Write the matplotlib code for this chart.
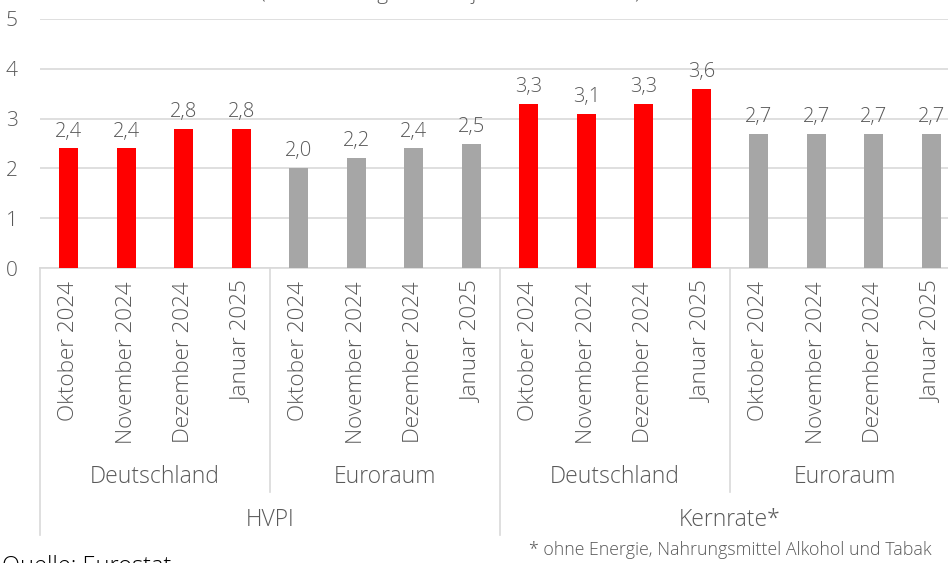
import numpy as np
import matplotlib.pyplot as plt
import matplotlib.transforms as mtransforms
from matplotlib.lines import Line2D

plt.rcParams['font.family'] = ['Open Sans', 'DejaVu Sans']
plt.rcParams['font.weight'] = 'light'

# data
months = ['Oktober 2024', 'November 2024', 'Dezember 2024', 'Januar 2025'] * 4
regions = ['Deutschland', 'Euroraum', 'Deutschland', 'Euroraum']
measures = ['HVPI', 'Kernrate*']
values = [2.4, 2.4, 2.8, 2.8, 2.0, 2.2, 2.4, 2.5,
          3.3, 3.1, 3.3, 3.6, 2.7, 2.7, 2.7, 2.7]
region_colors = {'Deutschland': '#FF0000', 'Euroraum': '#A6A6A6'}

W, H = 948, 563
fig = plt.figure(figsize=(W / 100, H / 100), dpi=100)
# axis deliberately runs past the right edge (reference is cropped)
ax = fig.add_axes([40 / W, (H - 268) / H, 920 / W, 249 / H])

x = np.arange(len(values))
bar_colors = [region_colors[regions[i // 4]] for i in x]
ax.bar(x, values, width=0.33, color=bar_colors, zorder=3)

txt = '#595959'
for xi, v in zip(x, values):
    ax.annotate(f'{v:.1f}'.replace('.', ','), (xi, v), xytext=(0, 5),
                textcoords='offset points', ha='center', va='bottom',
                fontsize=14.5, color=txt)

ax.set_xlim(-0.5, len(values) - 0.5)
ax.set_ylim(0, 5)
ax.set_yticks(range(6))
ax.tick_params(axis='y', length=0, pad=16, labelsize=15, labelcolor=txt)
ax.set_xticks([])
ax.grid(axis='y', color='#D9D9D9', linewidth=1.2, zorder=0)
for s in ['top', 'right', 'left']:
    ax.spines[s].set_visible(False)
ax.spines['bottom'].set_color('#D9D9D9')
ax.spines['bottom'].set_linewidth(1.2)

# category labels below the axis
tr = mtransforms.blended_transform_factory(ax.transData, fig.transFigure)
def fy(py):
    return (H - py) / H

for xi, m in zip(x, months):
    ax.text(xi, fy(281), m, transform=tr, rotation=90, ha='center', va='top',
            fontsize=16.2, color=txt)

for i, r in enumerate(regions):
    ax.text(i * 4 + 1.5, fy(477), r, transform=tr, ha='center', va='center',
            fontsize=16.5, color=txt)
for i, m in enumerate(measures):
    ax.text(i * 8 + 3.5, fy(520), m, transform=tr, ha='center', va='center',
            fontsize=16.5, color=txt)

# group separators
for b in range(0, 17, 4):
    bottom = 535 if b % 8 == 0 else 492
    ax.add_line(Line2D([b - 0.5, b - 0.5], [fy(268), fy(bottom)], transform=tr,
                       color='#D9D9D9', linewidth=1.2, clip_on=False))

# cropped title, footnote and source
fig.text(450 / W, fy(-1), '(Veränderung zum Vorjahresmonat in %)', ha='center',
         va='baseline', fontsize=15, color=txt)
fig.text(932 / W, fy(550), '* ohne Energie, Nahrungsmittel Alkohol und Tabak',
         ha='right', va='center', fontsize=12.8, color=txt)
fig.text(2 / W, fy(555), 'Quelle: Eurostat', ha='left', va='top',
         fontsize=17, color='black')

fig.savefig('out.png', dpi=100)
